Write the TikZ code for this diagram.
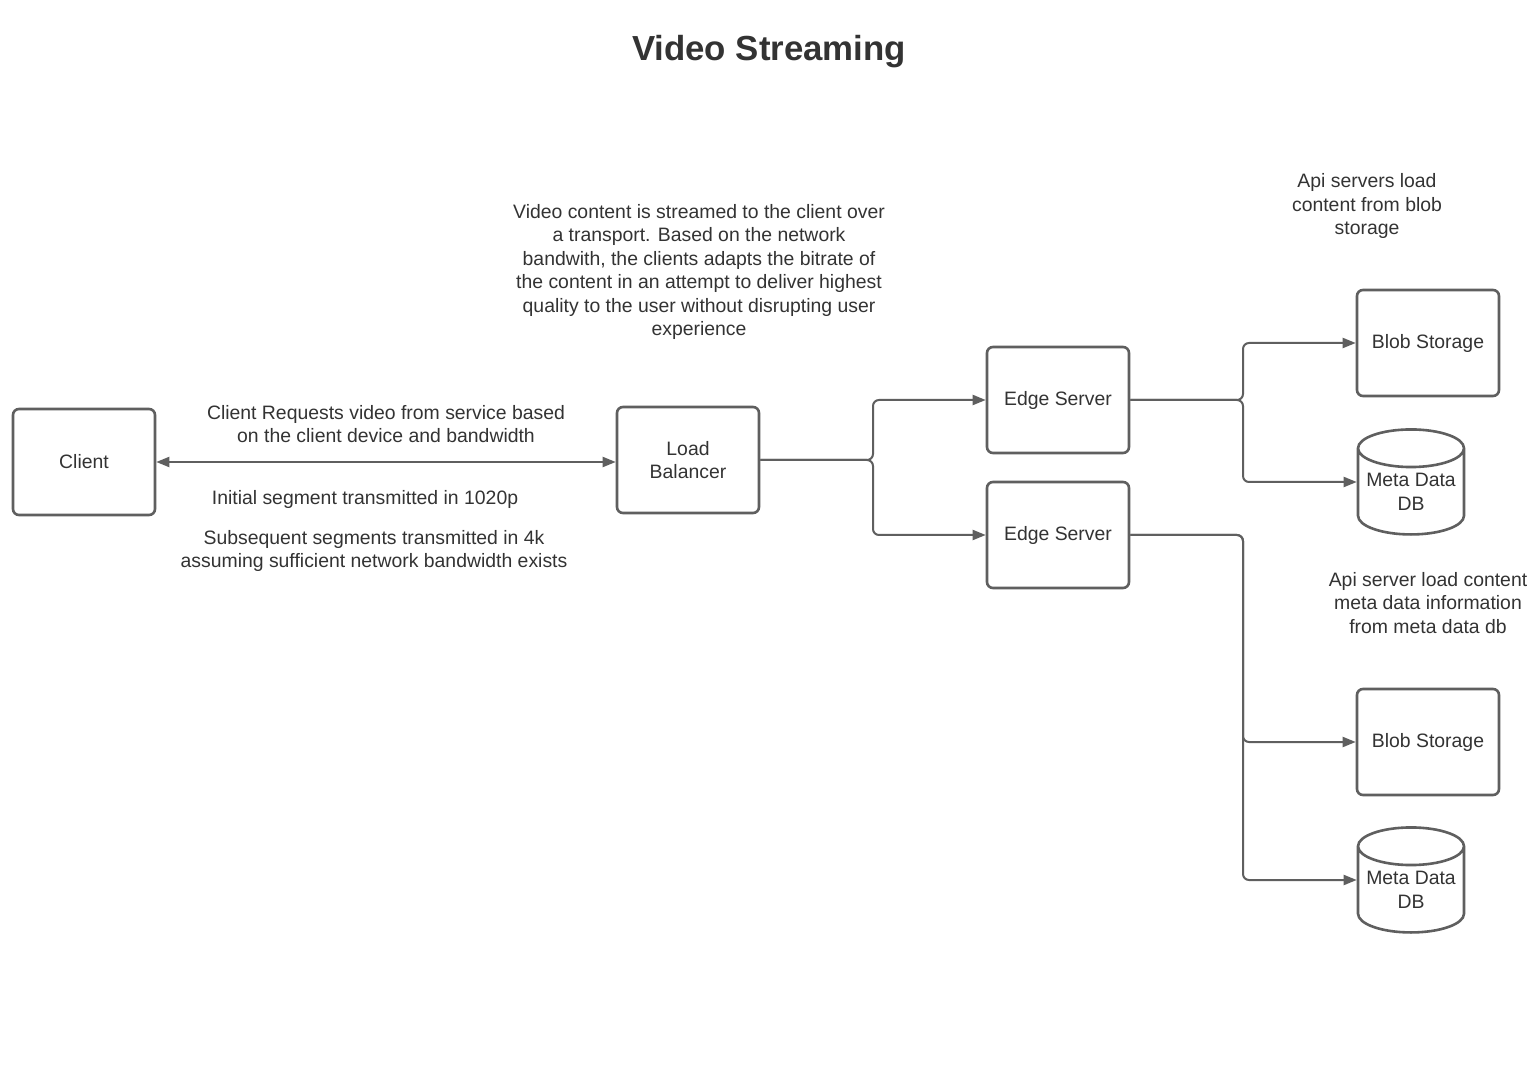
\documentclass[tikz,border=0pt]{standalone}
\usepackage{fontspec}
\setmainfont{Liberation Sans}
\usetikzlibrary{arrows.meta, shapes.geometric, positioning}
\definecolor{ink}{HTML}{333333}
\definecolor{wire}{HTML}{5F5F5F}

\begin{document}
\begin{tikzpicture}[
  x=0.5pt, y=-0.5pt,
  every node/.style={font=\fontsize{9.7}{11.75}\selectfont, text=ink},
  srvbox/.style={rectangle, rounded corners=3pt, draw=wire, line width=1.3pt,
               minimum width=71pt, minimum height=53pt, align=center, inner sep=0pt},
  dbcyl/.style={cylinder, shape border rotate=90, aspect=0.42, draw=wire,
                line width=1.3pt, minimum width=53pt, minimum height=52.5pt,
                align=center, inner sep=0pt},
  note/.style={align=center, inner sep=0pt},
  arr/.style={-{Triangle[length=6.5pt, width=5pt]}, draw=wire, line width=1pt,
              rounded corners=3pt},
]
\fill[white] (0,0) rectangle (1536,1090);
\useasboundingbox (0,0) rectangle (1536,1090);

\node[font=\fontsize{17.4}{20}\selectfont\bfseries] (title) at (769,52) {Video Streaming};

\node[srvbox] (client) at (84,462) {Client};
\node[srvbox] (lb) at (688,460) {Load\\Balancer};
\node[srvbox] (edge1) at (1058,400) {Edge Server};
\node[srvbox, below=13.2pt of edge1] (edge2) {Edge Server};

% storage on the right
\node[srvbox] (blob1) at (1428,343) {Blob Storage};
\node[dbcyl]  (meta1) at (1411,492) {Meta Data\\DB};
\node[srvbox] (blob2) at (1428,742) {Blob Storage};
\node[dbcyl]  (meta2) at (1411,890) {Meta Data\\DB};

% notes
\node[note] (nstream) at (699,272) {Video content is streamed to the client over\\a transport. Based on the network\\bandwith, the clients adapts the bitrate of\\the content in an attempt to deliver highest\\quality to the user without disrupting user\\experience};
\node[note] (nreq) at (386,424) {Client Requests video from service based\\on the client device and bandwidth};
\node[note] (ninit) at (365,499) {Initial segment transmitted in 1020p};
\node[note] (nsub) at (374,551) {Subsequent segments transmitted in 4k\\assuming sufficient network bandwidth exists};
\node[note] (nblob) at (1367,206) {Api servers load\\content from blob\\storage};
\node[note] (nmeta) at (1428,603) {Api server load content\\meta data information\\from meta data db};

% connectors
\coordinate (fk1) at (873,460);
\coordinate (fk2) at (1243,400);
\coordinate (fk3) at (1243,535);

\draw[arr, {Triangle[length=6.5pt, width=5pt]}-{Triangle[length=6.5pt, width=5pt]}]
  (client.east) -- (client.east -| lb.west);
\draw[arr] (lb.east) -- (fk1) |- (edge1.west);
\draw[arr] (lb.east) -- (fk1) |- (edge2.west);
\draw[arr] (edge1.east) -- (fk2) |- (blob1.west);
\draw[arr] (edge1.east) -- (fk2) |- ([yshift=5pt]meta1.west);
\draw[arr] (edge2.east) -- (fk3) |- (blob2.west);
\draw[arr] (edge2.east) -- (fk3) |- ([yshift=5pt]meta2.west);
\end{tikzpicture}
\end{document}
